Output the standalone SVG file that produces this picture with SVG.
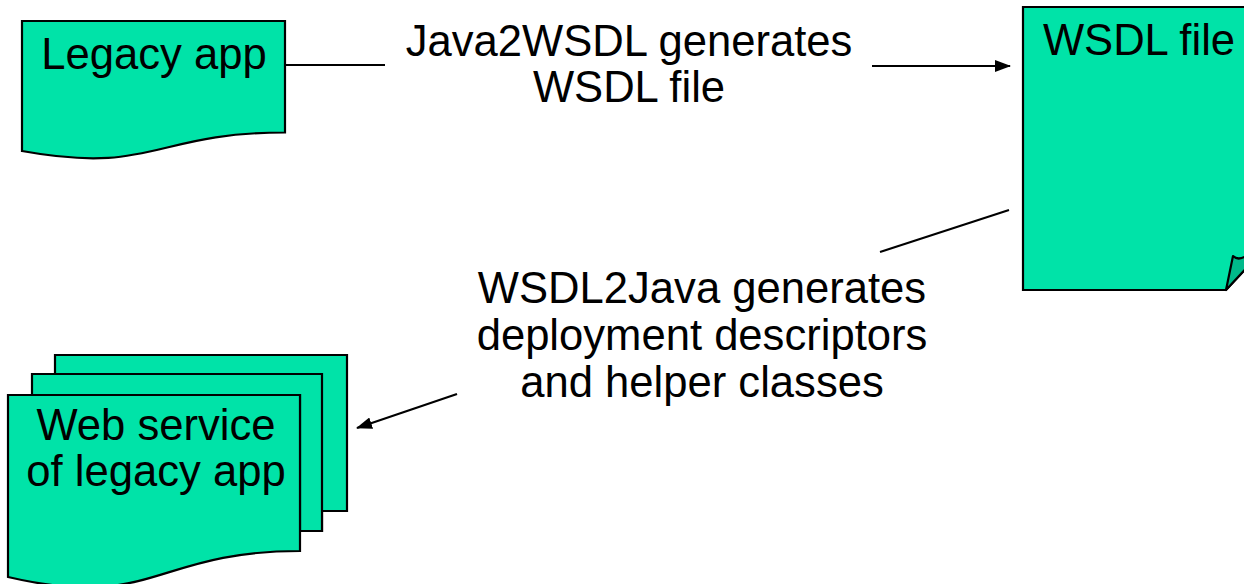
<svg xmlns="http://www.w3.org/2000/svg" width="1244" height="584" viewBox="0 0 1244 584">
  <style>
    .doc { fill: #00E3A8; stroke: #000; stroke-width: 2.2; stroke-linejoin: miter; }
    .fold { fill: #00B98A; stroke: #000; stroke-width: 2.2; stroke-linejoin: round; }
    .conn { fill: none; stroke: #000; stroke-width: 2.2; }
    text { font-family: "Liberation Sans", Arial, sans-serif; font-size: 43.6px; fill: #000; text-anchor: middle; }
  </style>
  <defs>
    <marker id="arrowhead" viewBox="0 0 16 12" refX="15" refY="6" markerWidth="16" markerHeight="12" markerUnits="userSpaceOnUse" orient="auto">
      <path d="M0,0 L16,6 L0,12 Z" fill="#000"/>
    </marker>
  </defs>

  <!-- connectors -->
  <g id="connectors">
    <line class="conn" x1="285" y1="65" x2="385" y2="65"/>
    <line class="conn" x1="872" y1="66" x2="1010" y2="66" marker-end="url(#arrowhead)"/>
    <line class="conn" x1="1009" y1="210" x2="880" y2="252"/>
    <line class="conn" x1="457" y1="394" x2="357" y2="428" marker-end="url(#arrowhead)"/>
  </g>

  <!-- source document -->
  <g id="legacy-app">
    <path class="doc" d="M22,21 H285 V132.5 C153.5,132.5 153.5,175 22,151 Z"/>
    <text x="154" y="69">Legacy app</text>
  </g>

  <!-- generated WSDL page with a curled corner -->
  <g id="wsdl-file">
    <path class="doc" d="M1023,7 H1252 V262 L1226,290 H1023 Z"/>
    <path class="fold" d="M1226,290 L1233,256 Q1238,261 1246,256 L1252,262 Z"/>
    <text x="1139" y="55">WSDL file</text>
  </g>

  <!-- stacked generated documents -->
  <g id="web-service">
    <path class="doc" d="M55,355 H347 V511 H322 V531 H300 V395 H55 Z"/>
    <path class="doc" d="M32,374 H322 V531 H300 V395 H32 Z"/>
    <path class="doc" d="M8,395 H300 V551 C154,551 154,611 8,577 Z"/>
    <text x="156" y="440">Web service</text>
    <text x="156" y="486">of legacy app</text>
  </g>

  <!-- connector labels -->
  <g id="label-java2wsdl">
    <text x="629" y="56">Java2WSDL generates</text>
    <text x="629" y="102">WSDL file</text>
  </g>
  <g id="label-wsdl2java">
    <text x="702" y="303">WSDL2Java generates</text>
    <text x="702" y="350">deployment descriptors</text>
    <text x="702" y="397">and helper classes</text>
  </g>
</svg>
